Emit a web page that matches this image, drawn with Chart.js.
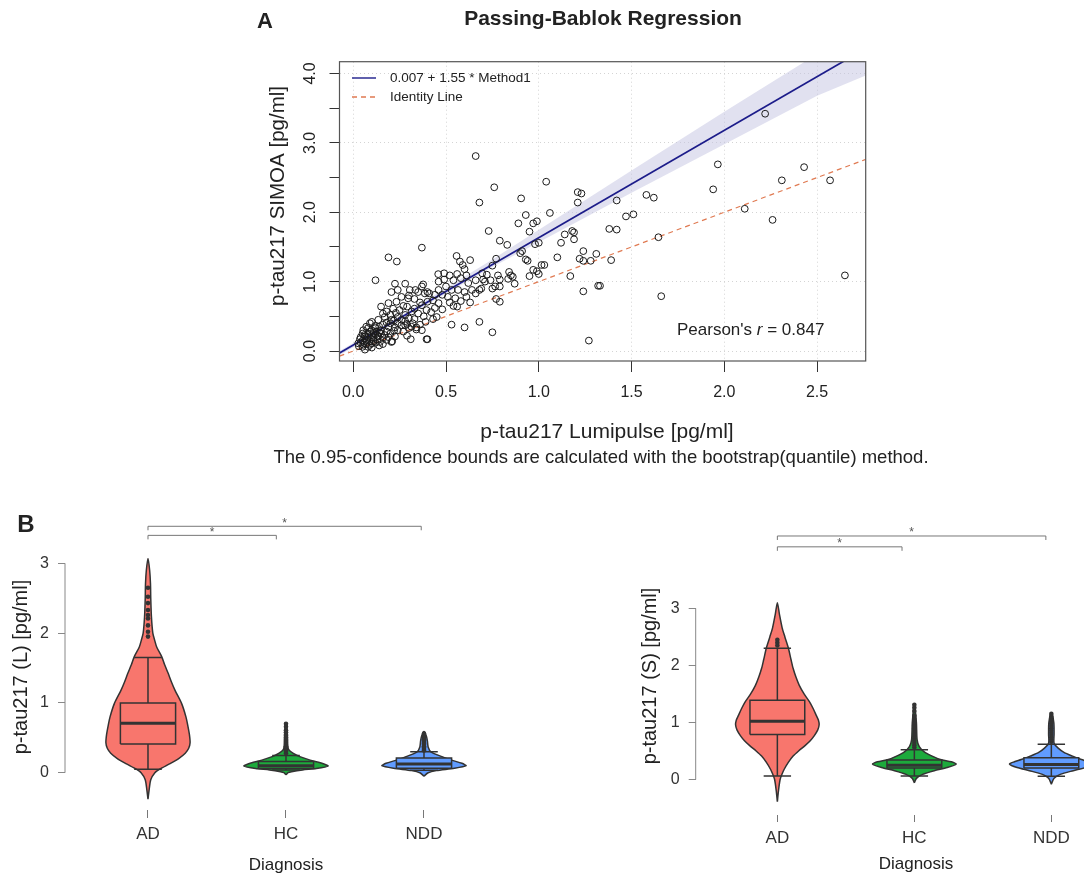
<!DOCTYPE html>
<html>
<head>
<meta charset="utf-8">
<script src="https://cdn.jsdelivr.net/npm/chart.js@4.4.1/dist/chart.umd.min.js"></script>
<style>
  html, body { margin: 0; padding: 0; background: #fff; }
  body { width: 1088px; height: 874px; position: relative; overflow: hidden; }
  canvas { position: absolute; }
  #chartA { left: 0; top: 0; }
  #chartBL { left: 0; top: 480px; }
  #chartBR { left: 544px; top: 480px; }
</style>
</head>
<body>
<canvas id="chartA" width="1088" height="480"></canvas>
<canvas id="chartBL" width="544" height="394"></canvas>
<canvas id="chartBR" width="544" height="394"></canvas>
<script>
// --- 1. DATA: panel A (Passing-Bablok) ---
const lumipulseX = [
  0.66, 0.76, 0.68, 0.905, 1.04, 1.21, 1.23, 1.21, 0.93, 1.06,
  0.89, 0.97, 0.99, 0.73, 0.95, 0.79, 0.83, 0.98, 1.00, 1.12,
  1.14, 1.18, 1.19, 1.19, 1.24, 1.31, 1.22, 1.24, 1.28, 1.24,
  1.32, 1.33, 1.27, 1.17, 1.10, 0.90, 0.91, 0.93, 0.94, 0.97,
  0.99, 1.015, 1.03, 0.95, 1.00, 0.77, 0.75, 0.63, 0.557, 0.575,
  0.59, 0.60, 0.37, 0.19, 0.235, 0.12, 0.72, 0.70, 0.74, 0.78,
  0.79, 0.84, 0.85, 0.86, 0.835, 0.87, 0.765, 0.79, 0.75, 0.69,
  0.77, 0.79, 0.68, 0.75, 0.54, 0.53, 0.60, 0.45, 0.43, 0.40,
  0.37, 0.34, 0.31, 0.29, 0.28, 0.21, 0.30, 2.22, 1.965, 1.94,
  2.43, 2.31, 2.57, 2.11, 2.26, 2.65, 1.58, 1.62, 1.42, 1.47,
  1.51, 1.38, 1.42, 1.645, 1.39, 1.66, 0.458, 0.49, 0.52, 0.46,
  0.49, 0.54, 0.56, 0.58, 0.61, 0.62, 0.66, 0.695, 0.71, 0.68,
  0.64, 0.60, 0.565, 0.53, 0.50, 0.46, 0.44, 0.41, 0.48, 0.51,
  0.55, 0.61, 0.66, 0.225, 0.28, 0.305, 0.335, 0.37, 0.377, 0.35,
  0.386, 0.40, 0.24, 0.206, 0.26, 0.296, 0.233, 0.19, 0.15, 0.18,
  0.215, 0.25, 0.29, 0.33, 0.37, 0.40, 0.43, 0.46, 0.395, 0.35,
  0.315, 0.28, 0.33, 0.24, 0.206, 0.17, 0.135, 0.16, 0.10, 0.117,
  0.08, 0.054, 0.09, 0.126, 0.15, 0.19, 0.225, 0.26, 0.29, 0.314,
  0.17, 0.135, 0.10, 0.063, 0.036, 0.072, 0.108, 0.144, 0.054, 0.08,
  0.027, 0.063, 0.10, 0.18, 0.206, 0.225, 0.34, 0.395, 0.39,
  0.04, 0.05, 0.06, 0.07, 0.08, 0.09, 0.11, 0.12, 0.13, 0.14,
  0.05, 0.07, 0.09, 0.11, 0.12, 0.13, 0.16, 0.15, 0.18, 0.20,
  0.22, 0.10, 0.12, 0.14, 0.16, 0.18, 0.20, 0.22, 0.24, 0.26,
  0.28, 0.11, 0.08, 0.06, 0.04, 0.03, 0.10, 0.14, 0.16, 0.19,
  0.24, 0.27, 0.30, 0.32, 0.36, 0.38, 0.42, 0.44, 0.48, 0.52,
  0.56, 0.58, 0.63, 0.36, 0.33, 0.30, 0.27, 0.23, 0.20, 0.05,
  0.07, 0.09
];
const simoaY = [
  2.81, 2.36, 2.14, 2.20, 2.44, 2.29, 2.27, 2.14, 1.96, 1.99,
  1.84, 1.84, 1.87, 1.73, 1.72, 1.59, 1.53, 1.54, 1.56, 1.56,
  1.68, 1.73, 1.71, 1.61, 1.44, 1.40, 1.33, 1.30, 1.30, 0.86,
  0.94, 0.94, 0.15, 1.08, 1.35, 1.41, 1.44, 1.32, 1.30, 1.17,
  1.15, 1.24, 1.24, 1.08, 1.11, 1.33, 1.23, 1.31, 1.37, 1.29,
  1.24, 1.18, 1.49, 1.35, 1.29, 1.02, 1.10, 1.03, 1.02, 1.09,
  1.03, 1.14, 1.09, 1.07, 1.04, 0.97, 0.93, 0.93, 0.90, 0.90,
  0.75, 0.71, 0.42, 0.27, 0.65, 0.38, 0.34, 0.49, 0.46, 0.17,
  0.30, 0.34, 0.17, 0.22, 0.37, 0.14, 0.47, 3.42, 2.69, 2.33,
  2.65, 2.46, 2.46, 2.05, 1.89, 1.09, 2.25, 2.21, 2.17, 1.94,
  1.97, 1.76, 1.75, 1.64, 1.31, 0.79, 1.108, 1.12, 1.09, 1.00,
  1.03, 1.02, 1.11, 1.05, 1.09, 0.98, 1.02, 1.12, 1.00, 0.88,
  0.88, 0.85, 0.88, 0.88, 0.93, 0.88, 0.81, 0.83, 0.81, 0.78,
  0.76, 0.78, 0.83, 0.97, 0.97, 0.88, 0.88, 0.93, 0.96, 0.85,
  0.83, 0.85, 0.88, 0.85, 0.78, 0.76, 0.71, 0.69, 0.64, 0.57,
  0.61, 0.59, 0.64, 0.61, 0.66, 0.71, 0.73, 0.69, 0.59, 0.54,
  0.57, 0.52, 0.46, 0.49, 0.45, 0.49, 0.45, 0.54, 0.42, 0.36,
  0.33, 0.30, 0.28, 0.28, 0.30, 0.35, 0.34, 0.37, 0.39, 0.35,
  0.23, 0.21, 0.23, 0.21, 0.17, 0.13, 0.16, 0.13, 0.09, 0.06,
  0.11, 0.02, 0.11, 0.16, 0.13, 0.21, 0.31, 0.17, 0.42,
  0.12, 0.15, 0.18, 0.16, 0.20, 0.14, 0.19, 0.24, 0.17, 0.27,
  0.06, 0.10, 0.09, 0.14, 0.12, 0.22, 0.19, 0.25, 0.28, 0.25,
  0.29, 0.30, 0.33, 0.35, 0.38, 0.41, 0.40, 0.44, 0.40, 0.45,
  0.43, 0.26, 0.25, 0.23, 0.20, 0.07, 0.05, 0.08, 0.10, 0.20,
  0.30, 0.28, 0.33, 0.40, 0.38, 0.50, 0.56, 0.62, 0.60, 0.70,
  0.64, 0.72, 0.70, 0.70, 0.75, 0.80, 0.65, 0.55, 0.52, 0.25,
  0.35, 0.40
];
const fitX = [-0.074, 2.762];
const fitY = [-0.03, 4.36];
const identityX = [-0.074, 2.762];
const identityY = [-0.074, 2.762];
const bandX = [-0.074, 0.3, 0.75, 1.5, 2.0, 2.5, 2.762];
const bandLow = [-0.06, 0.52, 1.21, 2.28, 2.98, 3.68, 3.97];
const bandHigh = [0.0, 0.58, 1.32, 2.60, 3.45, 4.28, 4.70];
const refXTicks = [0, 0.5, 1, 1.5, 2, 2.5];
const refYTicks = [0, 0.5, 1, 1.5, 2, 2.5, 3, 3.5, 4];
const refYLabels = [0, 1, 2, 3, 4];

// --- 2. DATA: panel B (violins) ---
const diagnosis = ['AD', 'HC', 'NDD'];
const diagColors = ['#F8766D', '#1DAA3C', '#619CFF'];
const valueTicks = [0, 1, 2, 3];

// Lumipulse (L): violin outline, y level and half width
const adL_y = [-0.38, -0.25, -0.10, 0.0, 0.05, 0.13, 0.20, 0.28, 0.35, 0.43, 0.55, 0.68, 0.80, 0.99, 1.18, 1.30, 1.42, 1.55, 1.66, 1.80, 1.90, 2.00, 2.23, 2.50, 2.71, 2.90, 3.07];
const adL_w = [0, 0.008, 0.02, 0.05, 0.085, 0.16, 0.22, 0.27, 0.295, 0.305, 0.30, 0.288, 0.275, 0.244, 0.196, 0.17, 0.147, 0.12, 0.10, 0.063, 0.048, 0.035, 0.025, 0.02, 0.018, 0.012, 0];
const hcL_y = [-0.03, 0.0, 0.015, 0.04, 0.06, 0.096, 0.135, 0.18, 0.23, 0.28, 0.33, 0.40, 0.55, 0.72];
const hcL_w = [0, 0.015, 0.04, 0.12, 0.22, 0.305, 0.26, 0.175, 0.10, 0.05, 0.02, 0.012, 0.01, 0];
const nddL_y = [-0.05, 0.0, 0.03, 0.063, 0.10, 0.135, 0.18, 0.23, 0.30, 0.37, 0.45, 0.52, 0.59];
const nddL_w = [0, 0.03, 0.09, 0.22, 0.305, 0.275, 0.20, 0.13, 0.05, 0.03, 0.025, 0.018, 0];
const boxL_q1 = [0.41, 0.06, 0.065];
const boxL_med = [0.71, 0.10, 0.125];
const boxL_q3 = [1.00, 0.16, 0.21];
const boxL_lo = [0.05, 0.04, 0.035];
const boxL_hi = [1.65, 0.245, 0.30];
const adL_out = [1.95, 2.02, 2.11, 2.21, 2.26, 2.33, 2.43, 2.52, 2.65];
const hcL_out = [0.28, 0.30, 0.32, 0.34, 0.36, 0.38, 0.41, 0.44, 0.47, 0.50, 0.54, 0.58, 0.61, 0.66, 0.70];
const nddL_out = [0.32, 0.34, 0.36, 0.38, 0.40, 0.42, 0.44, 0.46, 0.48, 0.50, 0.53, 0.56];
const bracketL_from = [1, 1];
const bracketL_to = [1.93, 2.98];
const bracketL_y = [3.40, 3.53];

// SIMOA (S)
const adS_y = [-0.39, -0.2, 0.0, 0.1, 0.18, 0.3, 0.41, 0.5, 0.59, 0.68, 0.77, 0.87, 0.96, 1.04, 1.12, 1.24, 1.36, 1.5, 1.65, 1.8, 1.95, 2.1, 2.31, 2.5, 2.66, 2.9, 3.10];
const adS_w = [0, 0.008, 0.02, 0.035, 0.05, 0.08, 0.115, 0.155, 0.20, 0.24, 0.27, 0.295, 0.305, 0.30, 0.285, 0.262, 0.235, 0.195, 0.16, 0.135, 0.115, 0.10, 0.08, 0.055, 0.035, 0.015, 0];
const hcS_y = [-0.06, 0.02, 0.09, 0.155, 0.21, 0.27, 0.31, 0.35, 0.41, 0.49, 0.575, 0.7, 1.0, 1.33];
const hcS_w = [0, 0.015, 0.06, 0.145, 0.24, 0.305, 0.27, 0.19, 0.13, 0.07, 0.036, 0.02, 0.015, 0];
const nddS_y = [-0.08, 0.02, 0.09, 0.155, 0.21, 0.27, 0.31, 0.35, 0.41, 0.47, 0.55, 0.635, 0.8, 1.0, 1.17];
const nddS_w = [0, 0.02, 0.065, 0.16, 0.25, 0.305, 0.27, 0.22, 0.155, 0.095, 0.05, 0.02, 0.02, 0.018, 0];
const boxS_q1 = [0.79, 0.20, 0.20];
const boxS_med = [1.02, 0.25, 0.265];
const boxS_q3 = [1.39, 0.34, 0.38];
const boxS_lo = [0.06, 0.06, 0.055];
const boxS_hi = [2.30, 0.52, 0.62];
const adS_out = [2.35, 2.40, 2.45];
const hcS_out = [0.56, 0.60, 0.64, 0.68, 0.72, 0.76, 0.80, 0.85, 0.90, 0.95, 1.00, 1.06, 1.12, 1.20, 1.26, 1.31];
const nddS_out = [0.66, 0.70, 0.74, 0.78, 0.82, 0.86, 0.90, 0.94, 0.98, 1.02, 1.06, 1.10, 1.15];
const bracketS_from = [1, 1];
const bracketS_to = [1.91, 2.96];
const bracketS_y = [4.08, 4.27];

// --- 3. SETTINGS ---
const FONT = '"Liberation Sans", Arial, Helvetica, sans-serif';
Chart.defaults.font.family = FONT;
Chart.defaults.animation = false;
const BOX_HALF = 0.20;
const CAP_HALF = 0.10;
const zip = (xs, ys) => xs.map((v, i) => ({ x: v, y: ys[i] }));

function rotatedText(ctx, text, x, y) {
  ctx.save();
  ctx.translate(x, y);
  ctx.rotate(-Math.PI / 2);
  ctx.fillText(text, 0, 0);
  ctx.restore();
}

// --- 4. PANEL A ---
const refDecor = {
  id: 'refDecor',
  afterDraw(chart) {
    const { ctx, chartArea: a, scales: { y } } = chart;
    ctx.save();
    ctx.strokeStyle = '#555';
    ctx.lineWidth = 1.2;
    ctx.strokeRect(a.left, a.top, a.right - a.left, a.bottom - a.top);

    ctx.fillStyle = '#222';
    ctx.textAlign = 'center';
    ctx.textBaseline = 'middle';
    ctx.font = '16px ' + FONT;
    refYLabels.forEach(v => rotatedText(ctx, v.toFixed(1), 311, y.getPixelForValue(v)));

    ctx.font = '20.5px ' + FONT;
    rotatedText(ctx, 'p-tau217 SIMOA [pg/ml]', 278, 196);
    ctx.font = '21px ' + FONT;
    ctx.fillText('p-tau217 Lumipulse [pg/ml]', 607, 432);
    ctx.font = '18.5px ' + FONT;
    ctx.fillText('The 0.95-confidence bounds are calculated with the bootstrap(quantile) method.', 601, 458);

    ctx.font = 'bold 21px ' + FONT;
    ctx.fillText('Passing-Bablok Regression', 603, 19);
    ctx.font = 'bold 22px ' + FONT;
    ctx.fillText('A', 265, 22);

    // legend (top-left inside)
    const fit = chart.data.datasets[3];
    const ident = chart.data.datasets[2];
    ctx.lineWidth = 1.4;
    ctx.strokeStyle = fit.borderColor;
    ctx.beginPath(); ctx.moveTo(352, 78); ctx.lineTo(376, 78); ctx.stroke();
    ctx.strokeStyle = ident.borderColor;
    ctx.setLineDash(ident.borderDash);
    ctx.beginPath(); ctx.moveTo(352, 97); ctx.lineTo(376, 97); ctx.stroke();
    ctx.setLineDash([]);
    ctx.textAlign = 'left';
    ctx.font = '13.5px ' + FONT;
    ctx.fillStyle = '#222';
    ctx.fillText('0.007 + 1.55 * Method1', 390, 78);
    ctx.fillText('Identity Line', 390, 97);

    // Pearson's r
    ctx.font = '17px ' + FONT;
    let px = 677;
    ctx.fillText("Pearson's ", px, 330);
    px += ctx.measureText("Pearson's ").width;
    ctx.font = 'italic 17px ' + FONT;
    ctx.fillText('r', px, 330);
    px += ctx.measureText('r').width;
    ctx.font = '17px ' + FONT;
    ctx.fillText(' = 0.847', px, 330);
    ctx.restore();
  }
};

new Chart(document.getElementById('chartA'), {
  type: 'scatter',
  data: {
    datasets: [
      { data: zip(bandX, bandLow), showLine: true, borderWidth: 0, pointRadius: 0, fill: false, order: 10 },
      { data: zip(bandX, bandHigh), showLine: true, borderWidth: 0, pointRadius: 0, fill: '-1', backgroundColor: 'rgba(196, 196, 226, 0.5)', order: 9 },
      { data: zip(identityX, identityY), showLine: true, borderColor: '#E07A52', borderWidth: 1.2, borderDash: [5, 4], pointRadius: 0, order: 3 },
      { data: zip(fitX, fitY), showLine: true, borderColor: '#1C1C8A', borderWidth: 1.7, pointRadius: 0, order: 2 },
      { data: zip(lumipulseX, simoaY), pointRadius: 3.4, borderWidth: 1, borderColor: '#1a1a1a', backgroundColor: 'rgba(0,0,0,0)', order: 1 }
    ]
  },
  options: {
    responsive: false,
    events: [],
    layout: { padding: { left: 299.5, right: 222.3, top: 61.7, bottom: 0 } },
    plugins: { legend: { display: false }, tooltip: { enabled: false } },
    scales: {
      x: {
        type: 'linear', min: -0.074, max: 2.762,
        afterBuildTicks: s => { s.ticks = refXTicks.map(v => ({ value: v })); },
        afterFit: s => { s.height = 119; },
        grid: { color: '#d4d4d4', tickColor: '#333', tickLength: 11 },
        border: { display: false, dash: [1, 3] },
        ticks: { color: '#222', font: { size: 16 }, padding: 11, maxRotation: 0, callback: v => v.toFixed(1) }
      },
      y: {
        type: 'linear', min: -0.144, max: 4.17,
        afterBuildTicks: s => { s.ticks = refYTicks.map(v => ({ value: v })); },
        afterFit: s => { s.width = 40; },
        grid: {
          color: c => Number.isInteger(c.tick.value) ? '#d4d4d4' : 'rgba(0,0,0,0)',
          tickColor: '#333', tickLength: 10
        },
        border: { display: false, dash: [1, 3] },
        ticks: { display: false }
      }
    }
  },
  plugins: [refDecor]
});

// --- 5. PANEL B ---
function groupDatasets(center, color, vy, vw, q1, med, q3, lo, hi, outliers) {
  const outline = vy.map((v, i) => ({ x: center + vw[i], y: v }))
    .concat(vy.map((v, i) => ({ x: center - vw[i], y: v })).reverse().slice(1));
  const box = [
    { x: center - BOX_HALF, y: q1 }, { x: center + BOX_HALF, y: q1 },
    { x: center + BOX_HALF, y: q3 }, { x: center - BOX_HALF, y: q3 },
    { x: center - BOX_HALF, y: q1 }
  ];
  const whiskers = [
    { x: center, y: q3 }, { x: center, y: hi }, { x: center, y: null },
    { x: center - CAP_HALF, y: hi }, { x: center + CAP_HALF, y: hi }, { x: center, y: null },
    { x: center, y: q1 }, { x: center, y: lo }, { x: center, y: null },
    { x: center - CAP_HALF, y: lo }, { x: center + CAP_HALF, y: lo }
  ];
  const median = [{ x: center - BOX_HALF, y: med }, { x: center + BOX_HALF, y: med }];
  const line = { showLine: true, pointRadius: 0, borderColor: '#333' };
  return [
    { ...line, data: outline, fill: 'shape', backgroundColor: color, borderWidth: 1.5, tension: 0.25, order: 6 },
    { ...line, data: whiskers, borderWidth: 1.5, order: 5 },
    { ...line, data: box, fill: 'shape', backgroundColor: color, borderWidth: 1.5, order: 4 },
    { ...line, data: median, borderWidth: 3, order: 3 },
    { data: outliers.map(v => ({ x: center, y: v })), pointRadius: 2.3, borderWidth: 0, backgroundColor: '#333', order: 2 }
  ];
}

function violinDecor(cfg) {
  return {
    id: 'violinDecor',
    afterDraw(chart) {
      const { ctx, chartArea: a, scales: { x, y } } = chart;
      ctx.save();
      ctx.strokeStyle = '#888';
      ctx.lineWidth = 1;
      ctx.beginPath();
      ctx.moveTo(a.left, y.getPixelForValue(0));
      ctx.lineTo(a.left, y.getPixelForValue(3));
      ctx.stroke();

      // significance brackets
      ctx.strokeStyle = '#777';
      ctx.fillStyle = '#555';
      ctx.font = '12px ' + FONT;
      ctx.textAlign = 'center';
      ctx.textBaseline = 'middle';
      cfg.from.forEach((f, i) => {
        const x1 = x.getPixelForValue(f), x2 = x.getPixelForValue(cfg.to[i]);
        const yb = y.getPixelForValue(cfg.level[i]);
        ctx.beginPath();
        ctx.moveTo(x1, yb + 4); ctx.lineTo(x1, yb); ctx.lineTo(x2, yb); ctx.lineTo(x2, yb + 4);
        ctx.stroke();
        ctx.fillText('*', (x1 + x2) / 2, yb - 3);
      });

      ctx.fillStyle = '#222';
      ctx.font = '20px ' + FONT;
      rotatedText(ctx, cfg.yTitle, cfg.yTitlePos[0], cfg.yTitlePos[1]);
      ctx.font = '17px ' + FONT;
      ctx.fillText('Diagnosis', cfg.xTitlePos[0], cfg.xTitlePos[1]);
      if (cfg.letter) {
        ctx.font = 'bold 24px ' + FONT;
        ctx.fillText(cfg.letter, 26, 45);
      }
      ctx.restore();
    }
  };
}

function violinChart(id, cfg) {
  const datasets = [];
  cfg.groups.forEach((g, i) => {
    datasets.push(...groupDatasets(i + 1, diagColors[i], g[0], g[1],
      cfg.q1[i], cfg.med[i], cfg.q3[i], cfg.lo[i], cfg.hi[i], g[2]));
  });
  return new Chart(document.getElementById(id), {
    type: 'scatter',
    data: { datasets },
    options: {
      responsive: false,
      events: [],
      layout: { padding: cfg.padding },
      plugins: { legend: { display: false }, tooltip: { enabled: false } },
      scales: {
        x: {
          type: 'linear', min: cfg.xRange[0], max: cfg.xRange[1],
          afterBuildTicks: s => { s.ticks = diagnosis.map((d, i) => ({ value: i + 1 })); },
          afterFit: s => { s.height = cfg.xAxisHeight; },
          grid: { drawOnChartArea: false, tickColor: '#777', tickLength: cfg.xTickLen },
          border: { display: false },
          ticks: { color: '#333', font: { size: 17 }, padding: cfg.xTickPad, maxRotation: 0, callback: v => diagnosis[Math.round(v) - 1] }
        },
        y: {
          type: 'linear', min: cfg.yRange[0], max: cfg.yRange[1],
          afterBuildTicks: s => { s.ticks = valueTicks.map(v => ({ value: v })); },
          afterFit: s => { s.width = cfg.yAxisWidth; },
          grid: { drawOnChartArea: false, tickColor: '#888', tickLength: 7 },
          border: { display: false },
          ticks: { color: '#333', font: { size: 16 }, padding: 9 }
        }
      }
    },
    plugins: [violinDecor(cfg)]
  });
}

violinChart('chartBL', {
  groups: [[adL_y, adL_w, adL_out], [hcL_y, hcL_w, hcL_out], [nddL_y, nddL_w, nddL_out]],
  q1: boxL_q1, med: boxL_med, q3: boxL_q3, lo: boxL_lo, hi: boxL_hi,
  from: bracketL_from, to: bracketL_to, level: bracketL_y,
  xRange: [0.3986, 3.587], yRange: [-0.534, 3.262],
  padding: { left: 0, top: 65, right: 39, bottom: 0 },
  yAxisWidth: 65, xAxisHeight: 64, xTickLen: 8, xTickPad: 6,
  yTitle: 'p-tau217 (L) [pg/ml]', yTitlePos: [21, 187], xTitlePos: [286, 385],
  letter: 'B'
});

violinChart('chartBR', {
  groups: [[adS_y, adS_w, adS_out], [hcS_y, hcS_w, hcS_out], [nddS_y, nddS_w, nddS_out]],
  q1: boxS_q1, med: boxS_med, q3: boxS_q3, lo: boxS_lo, hi: boxS_hi,
  from: bracketS_from, to: bracketS_to, level: bracketS_y,
  xRange: [0.4039, 3.2384], yRange: [-0.6225, 3.323],
  padding: { left: 0, top: 110, right: 0, bottom: 0 },
  yAxisWidth: 151.7, xAxisHeight: 59, xTickLen: 7, xTickPad: 6,
  yTitle: 'p-tau217 (S) [pg/ml]', yTitlePos: [106, 196], xTitlePos: [372, 384],
  letter: null
});
</script>
</body>
</html>
